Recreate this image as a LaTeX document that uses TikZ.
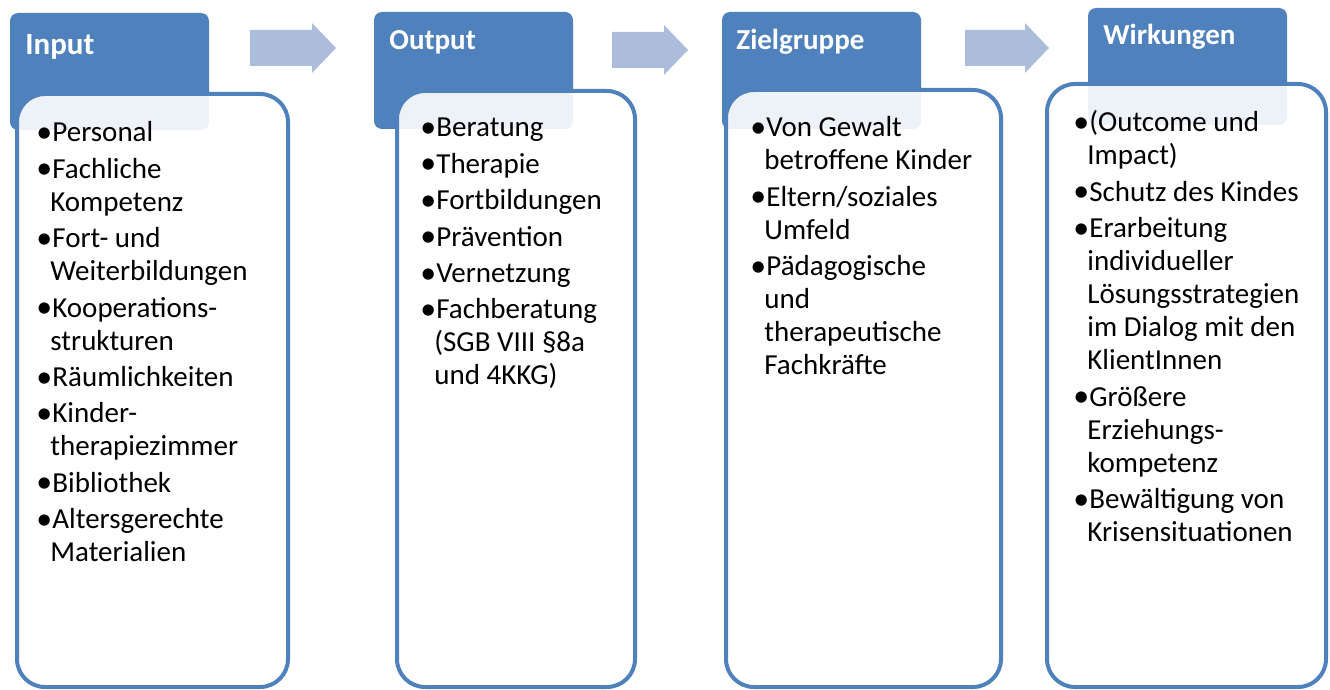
\documentclass[tikz,border=0pt]{standalone}
\usepackage{graphicx}
\usepackage{fontspec}
\setmainfont{Carlito}
\definecolor{akzent}{RGB}{79,129,189}
\definecolor{pfeil}{RGB}{172,189,220}
\newcommand{\pkt}[1]{\noindent\hangindent=7pt\hangafter=1\makebox[8pt][l]{\raisebox{-0.3pt}{\scalebox{1.1}{•}}}#1\par\vspace{1.7pt}}
\newcommand{\blockpfeil}[3]{\fill[pfeil] (#1,{#3-18}) -- ({#2-24},{#3-18}) -- ({#2-24},{#3-25}) -- (#2,#3) -- ({#2-24},{#3+25}) -- ({#2-24},{#3+18}) -- (#1,{#3+18}) -- cycle;}
\tikzset{
  kopf/.style={fill=akzent, rounded corners=4pt, minimum width=99.5pt, minimum height=58.5pt, anchor=north west, inner sep=0pt, outer sep=0pt},
  titel/.style={anchor=base west, text=white, font=\bfseries\fontsize{14.5}{17}\selectfont, inner sep=0pt},
  kasten/.style={draw=akzent, line width=2pt, fill=white, fill opacity=0.9, rounded corners=14pt, anchor=north west, inner sep=0pt, outer sep=0pt},
  liste/.style={anchor=base west, inner sep=0pt, text width=125pt, align=flush left, font=\fontsize{14.5}{16.5}\selectfont}
}
\begin{document}
\begin{tikzpicture}[x=0.5pt,y=-0.5pt]
  \useasboundingbox (0,0) rectangle (1330,690);

  % Input
  \node[kopf] (inkopf) at (10,13) {};
  \node[kasten, minimum width=135.5pt, minimum height=296.5pt] (inkasten) at (17,94) {};
  \node[titel, font=\bfseries\fontsize{15.5}{18}\selectfont] (intitel) at (25,55) {Input};
  \node[liste] (inliste) at (36,142) {\pkt{Personal}\pkt{Fachliche\newline Kompetenz}\pkt{Fort- und\newline Weiterbildungen}\pkt{Kooperations-\newline strukturen}\pkt{Räumlichkeiten}\pkt{Kinder-\newline therapiezimmer}\pkt{Bibliothek}\pkt{Altersgerechte\newline Materialien}};

  % Output
  \node[kopf] (outkopf) at (374,12) {};
  \node[kasten, minimum width=119pt, minimum height=298pt] (outkasten) at (397,91) {};
  \node[titel] (outtitel) at (389,50) {Output};
  \node[liste] (outliste) at (420,137) {\pkt{Beratung}\pkt{Therapie}\pkt{Fortbildungen}\pkt{Prävention}\pkt{Vernetzung}\pkt{Fachberatung\newline (SGB VIII §8a\newline und 4KKG)}};

  % Zielgruppe
  \node[kopf] (zielkopf) at (722,12) {};
  \node[kasten, minimum width=137.5pt, minimum height=298.5pt] (zielkasten) at (726,90) {};
  \node[titel] (zieltitel) at (736,50) {Zielgruppe};
  \node[liste] (zielliste) at (750,137) {\pkt{Von Gewalt\newline betroffene Kinder}\pkt{Eltern/soziales\newline Umfeld}\pkt{Pädagogische\newline und\newline therapeutische\newline Fachkräfte}};

  % Wirkungen
  \node[kopf] (wirkkopf) at (1088,8) {};
  \node[kasten, minimum width=139.5pt, minimum height=301.5pt] (wirkkasten) at (1047,84) {};
  \node[titel] (wirktitel) at (1103,45) {Wirkungen};
  \node[liste] (wirkliste) at (1073,132) {\pkt{(Outcome und\newline Impact)}\pkt{Schutz des Kindes}\pkt{Erarbeitung\newline individueller\newline Lösungsstrategien\newline im Dialog mit den\newline KlientInnen}\pkt{Größere\newline Erziehungs-\newline kompetenz}\pkt{Bewältigung von\newline Krisensituationen}};

  \blockpfeil{250}{336}{48}
  \blockpfeil{612}{688}{50}
  \blockpfeil{965}{1049}{48}
\end{tikzpicture}
\end{document}
